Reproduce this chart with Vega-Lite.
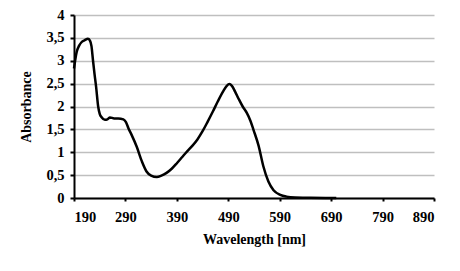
{
  "$schema": "https://vega.github.io/schema/vega-lite/v6.json",
  "autosize": {"type": "none"},
  "padding": {"left": 74, "top": 15, "right": 26, "bottom": 73},
  "width": 360,
  "height": 183,
  "background": "white",
  "config": {
    "view": {"stroke": null},
    "font": "Liberation Serif",
    "axis": {
      "labelFont": "Liberation Serif",
      "labelFontWeight": "bold",
      "labelFontSize": 14.5,
      "labelColor": "#000000",
      "titleFont": "Liberation Serif",
      "titleFontWeight": "bold",
      "titleFontSize": 14,
      "titleColor": "#000000",
      "domainColor": "#000000",
      "domainWidth": 2,
      "tickColor": "#000000",
      "tickWidth": 2
    }
  },
  "data": {
    "values": [
      {"wavelength": 190, "absorbance": 2.83},
      {"wavelength": 195, "absorbance": 3.18},
      {"wavelength": 200, "absorbance": 3.33},
      {"wavelength": 205, "absorbance": 3.41},
      {"wavelength": 211, "absorbance": 3.45},
      {"wavelength": 217, "absorbance": 3.48},
      {"wavelength": 221, "absorbance": 3.44},
      {"wavelength": 224, "absorbance": 3.32},
      {"wavelength": 227, "absorbance": 3.0},
      {"wavelength": 230, "absorbance": 2.7},
      {"wavelength": 233, "absorbance": 2.43},
      {"wavelength": 237, "absorbance": 2.0},
      {"wavelength": 240, "absorbance": 1.84},
      {"wavelength": 244, "absorbance": 1.76},
      {"wavelength": 250, "absorbance": 1.71},
      {"wavelength": 255, "absorbance": 1.72},
      {"wavelength": 260, "absorbance": 1.76},
      {"wavelength": 268, "absorbance": 1.74},
      {"wavelength": 276, "absorbance": 1.74},
      {"wavelength": 286, "absorbance": 1.72},
      {"wavelength": 291, "absorbance": 1.66},
      {"wavelength": 296, "absorbance": 1.52},
      {"wavelength": 302, "absorbance": 1.38},
      {"wavelength": 312, "absorbance": 1.12},
      {"wavelength": 322, "absorbance": 0.8},
      {"wavelength": 331, "absorbance": 0.58},
      {"wavelength": 340, "absorbance": 0.49},
      {"wavelength": 351, "absorbance": 0.46},
      {"wavelength": 360, "absorbance": 0.49},
      {"wavelength": 370, "absorbance": 0.55},
      {"wavelength": 380, "absorbance": 0.64},
      {"wavelength": 390, "absorbance": 0.76},
      {"wavelength": 400, "absorbance": 0.89},
      {"wavelength": 410, "absorbance": 1.02},
      {"wavelength": 420, "absorbance": 1.14},
      {"wavelength": 430, "absorbance": 1.28},
      {"wavelength": 440, "absorbance": 1.46},
      {"wavelength": 450, "absorbance": 1.67},
      {"wavelength": 460, "absorbance": 1.89},
      {"wavelength": 470, "absorbance": 2.12},
      {"wavelength": 480, "absorbance": 2.33},
      {"wavelength": 487, "absorbance": 2.45},
      {"wavelength": 492, "absorbance": 2.49},
      {"wavelength": 497, "absorbance": 2.45},
      {"wavelength": 503, "absorbance": 2.33},
      {"wavelength": 510, "absorbance": 2.17},
      {"wavelength": 518, "absorbance": 2.0},
      {"wavelength": 526, "absorbance": 1.86},
      {"wavelength": 533, "absorbance": 1.69},
      {"wavelength": 539, "absorbance": 1.49},
      {"wavelength": 549, "absorbance": 1.14},
      {"wavelength": 558, "absorbance": 0.7},
      {"wavelength": 568, "absorbance": 0.36},
      {"wavelength": 578, "absorbance": 0.17},
      {"wavelength": 591, "absorbance": 0.07},
      {"wavelength": 603, "absorbance": 0.03},
      {"wavelength": 620, "absorbance": 0.01},
      {"wavelength": 650, "absorbance": 0.005},
      {"wavelength": 700, "absorbance": 0.0}
    ]
  },
  "mark": {"type": "line", "color": "#000000", "strokeWidth": 2.5, "interpolate": "monotone"},
  "encoding": {
    "x": {
      "field": "wavelength",
      "type": "quantitative",
      "scale": {"domain": [190, 890], "nice": false, "zero": false},
      "axis": {
        "title": "Wavelength [nm]",
        "values": [190, 290, 390, 490, 590, 690, 790, 890],
        "grid": false,
        "tickSize": 3,
        "labelPadding": 9,
        "titlePadding": 9
      }
    },
    "y": {
      "field": "absorbance",
      "type": "quantitative",
      "scale": {"domain": [0, 4], "nice": false},
      "axis": {
        "title": "Absorbance",
        "values": [0, 0.5, 1, 1.5, 2, 2.5, 3, 3.5, 4],
        "labelExpr": "replace(toString(datum.value), '.', ',')",
        "grid": true,
        "gridColor": "#bfbfbf",
        "gridWidth": 1.5,
        "tickSize": 4,
        "labelPadding": 6,
        "titlePadding": 12
      }
    }
  }
}
